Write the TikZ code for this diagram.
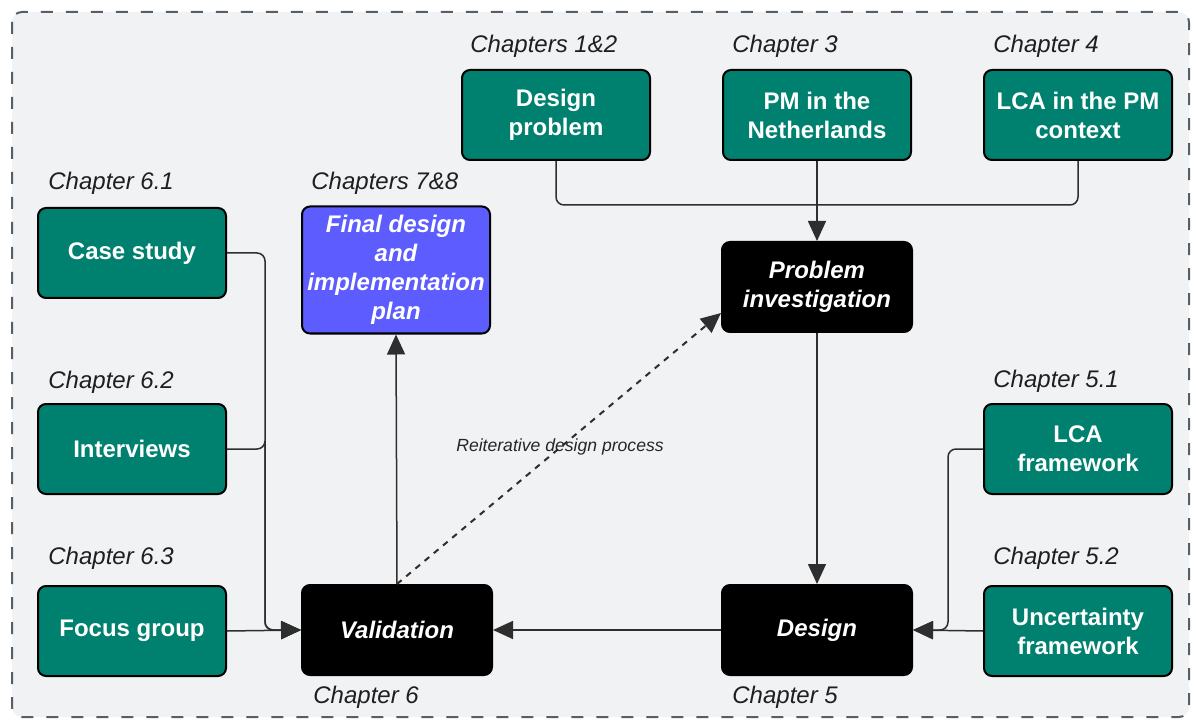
\documentclass[tikz,border=0pt]{standalone}
\usepackage{fontspec}
\setmainfont{Liberation Sans}
\usetikzlibrary{arrows.meta,calc}
\definecolor{bgpanel}{HTML}{F1F2F4}
\definecolor{framegray}{HTML}{585E66}
\definecolor{tealbox}{HTML}{00816F}
\definecolor{violetbox}{HTML}{5C5CFF}
\definecolor{wiregray}{HTML}{2E2E2E}
\tikzset{
  box/.style={draw=black, line width=1pt, rounded corners=4pt, text=white,
    font=\fontsize{12}{14.5}\selectfont\bfseries, align=center,
    minimum width=94pt, minimum height=45pt, inner sep=2pt},
  source/.style={box, fill=tealbox},
  phase/.style={box, fill=black, font=\fontsize{12}{14.5}\selectfont\bfseries\itshape,
    minimum width=95pt},
  outcome/.style={box, fill=violetbox, font=\fontsize{12}{14.5}\selectfont\bfseries\itshape,
    minimum height=63.5pt},
  chap/.style={anchor=west, inner sep=0pt, text=black!88,
    font=\fontsize{12}{14}\selectfont\itshape},
  conn/.style={draw=wiregray, line width=0.75pt, rounded corners=4pt,
    -{Triangle[length=10pt,width=9pt]}},
  plain/.style={draw=wiregray, line width=0.75pt, rounded corners=4pt},
}
\begin{document}
\begin{tikzpicture}[x=0.5pt,y=-0.5pt]
\useasboundingbox (0,0) rectangle (1196,722);
% panel
\draw[framegray, fill=bgpanel, line width=1pt, rounded corners=5pt,
  dash pattern=on 6pt off 6.5pt] (12,12) rectangle (1189,717);

% source boxes
\node[source] (dp)    at (556,115) {Design\\problem};
\node[source] (pm)    at (817,115) {PM in the\\Netherlands};
\node[source] (lcactx) at (1078,115) {LCA in the PM\\context};
\node[source] (case)  at (132,253) {Case study};
\node[source] (intv)  at (132,449) {Interviews};
\node[source] (focus) at (132,631) {Focus group};
\node[source] (lcafw) at (1078,449) {LCA\\framework};
\node[source] (unc)   at (1078,631) {Uncertainty\\framework};

% phases
\node[phase] (pi)    at (817,287) {Problem\\investigation};
\node[phase] (des)   at (817,630) {Design};
\node[phase] (valid) at (397,630) {Validation};
\node[outcome] (fin) at (396,270) {Final design\\and\\implementation\\plan};

% chapter labels
\node[chap] (c12) at (470,46) {Chapters 1\&2};
\node[chap] (c3)  at (732,46) {Chapter 3};
\node[chap] (c4)  at (993,46) {Chapter 4};
\node[chap] (c61) at (48,183) {Chapter 6.1};
\node[chap] (c78) at (311,183) {Chapters 7\&8};
\node[chap] (c62) at (48,382) {Chapter 6.2};
\node[chap] (c51) at (993,381) {Chapter 5.1};
\node[chap] (c63) at (48,558) {Chapter 6.3};
\node[chap] (c52) at (993,558) {Chapter 5.2};
\node[chap] (c6)  at (313,697) {Chapter 6};
\node[chap] (c5)  at (732,697) {Chapter 5};

% bus junctions
\coordinate (tbus) at (817,205);
\coordinate (lbus) at (265,449);
\coordinate (rbus) at (948,540);

% top inputs into problem investigation
\draw[plain] (dp.south) |- (tbus);
\draw[plain] (lcactx.south) |- (tbus);
\draw[conn] (pm.south) -- (pi.north);

% left inputs into validation
\draw[conn] (case.east) -| (lbus) |- (valid.west);
\draw[conn] (intv.east) -| (lbus) |- (valid.west);
\draw[conn] (focus.east) -- (valid.west);

% right inputs into design
\draw[conn] (lcafw.west) -| (rbus) |- (des.east);
\draw[conn] (unc.west) -- (des.east);

% main flow
\draw[conn] (pi.south) -- (des.north);
\draw[conn] (des.west) -- (valid.east);
\draw[conn] (valid.north) -- (fin.south);

% iteration loop
\coordinate (pientry) at ($(pi.south west)+(0,-20)$);
\draw[conn, line width=1pt, dash pattern=on 3pt off 3pt] (valid.north) -- (pientry);
\node[font=\fontsize{8.8}{10}\selectfont\itshape, text=black!85, inner sep=0pt]
  (loop) at (560,447) {Reiterative design process};
\end{tikzpicture}
\end{document}
